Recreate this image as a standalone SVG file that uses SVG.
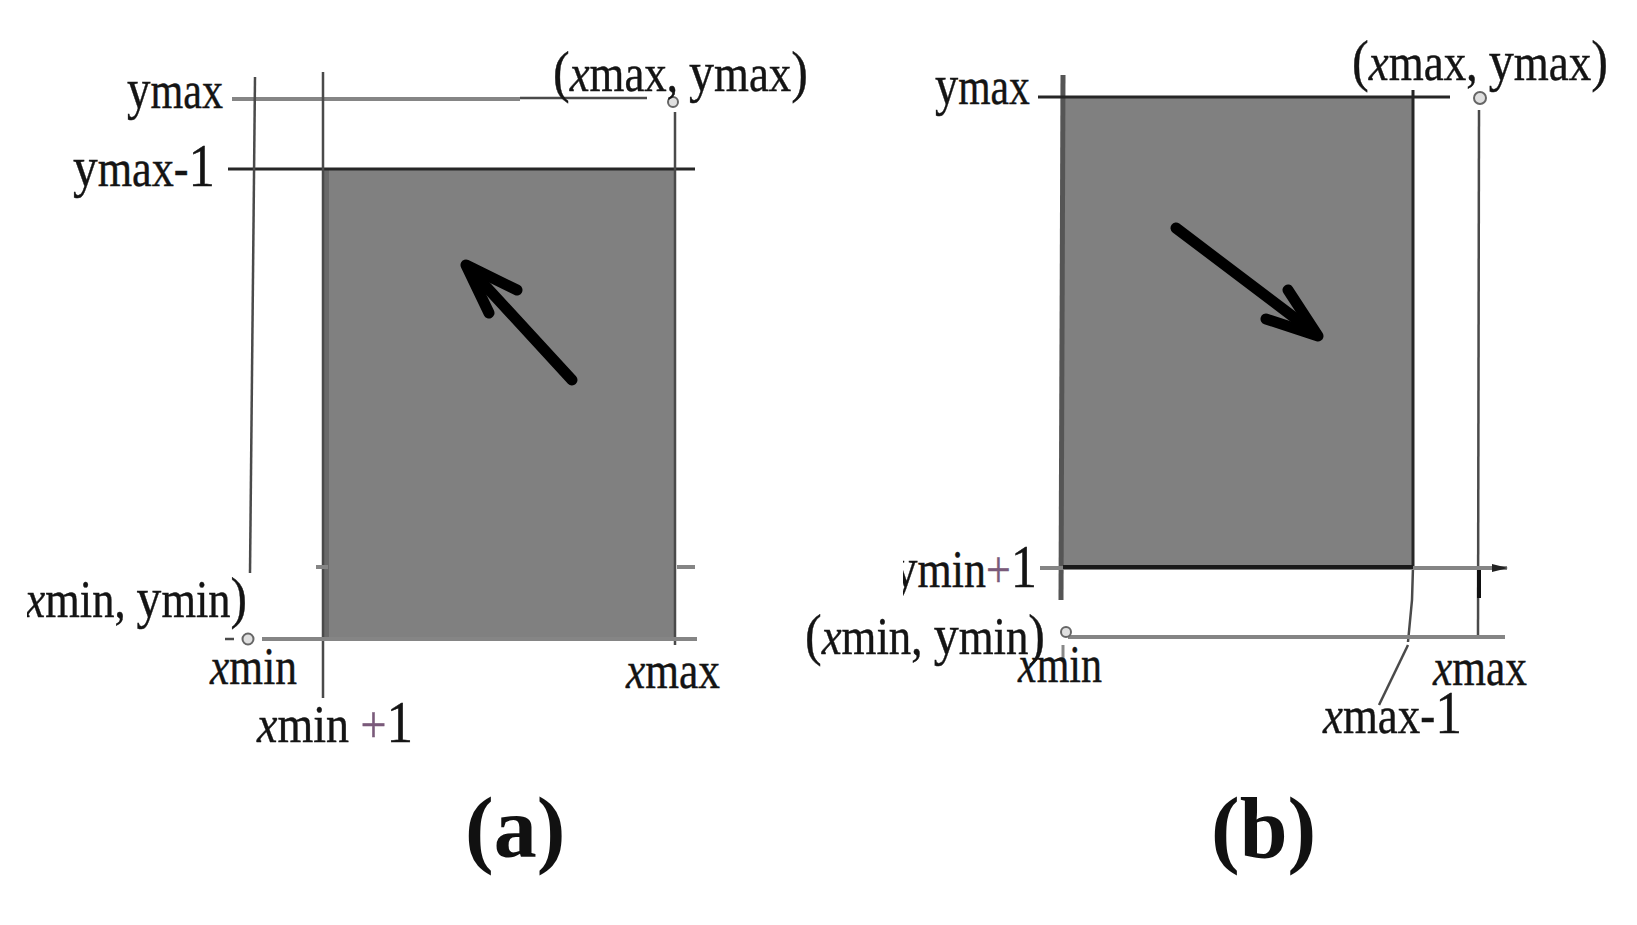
<svg xmlns="http://www.w3.org/2000/svg" width="1637" height="925" viewBox="0 0 1637 925">
<style>
.box{fill:#808080}
.ln{stroke:#4a4a4a;stroke-width:2.5;fill:none}
.lg{stroke:#858585;stroke-width:4;fill:none}
.dk{stroke:#262626;stroke-width:3;fill:none}
.t{font-family:"Liberation Serif","Times New Roman",serif;fill:#141414;font-size:52px;stroke:#141414;stroke-width:0.4}
.i{font-style:italic}
.big{font-size:58px}
.pl{fill:#7a5a7a;stroke:#7a5a7a}
.cap{font-family:"Liberation Serif","Times New Roman",serif;font-weight:bold;font-size:86px;fill:#111}
.arr{stroke:#000;stroke-width:11;stroke-linecap:round;stroke-linejoin:round;fill:none}
.pt{fill:#e0e0e0;stroke:#666;stroke-width:2}
</style>
<defs>
<marker id="ah" markerWidth="16" markerHeight="10" refX="15" refY="5" orient="auto" markerUnits="userSpaceOnUse">
<path d="M0,1 L16,5 L0,9 z" fill="#222"/>
</marker>
<clipPath id="clipA"><rect x="27" y="0" width="1610" height="925"/></clipPath>
<clipPath id="clipB"><rect x="903" y="0" width="734" height="925"/></clipPath>
</defs>
<rect width="1637" height="925" fill="#fff"/>

<g id="panel-a">
<g id="a-region">
<rect class="box" x="323" y="169" width="353" height="470"/>
<line x1="326" y1="169" x2="326" y2="639" stroke="#6a6a6a" stroke-width="6"/>
</g>
<g id="a-connectors">
<line class="lg" x1="232" y1="99" x2="520" y2="99"/>
<line class="ln" x1="520" y1="98" x2="647" y2="98"/>
<line class="dk" x1="228" y1="169" x2="695" y2="169"/>
<line class="ln" x1="255" y1="77" x2="250" y2="573"/>
<line class="ln" x1="323" y1="72" x2="323" y2="698"/>
<line class="ln" x1="675" y1="112" x2="675" y2="645"/>
<line class="lg" x1="262" y1="639" x2="697" y2="639"/>
<line class="ln" x1="225" y1="639" x2="234" y2="639"/>
<line class="lg" x1="316" y1="567" x2="328" y2="567"/>
<line class="lg" x1="677" y1="567" x2="695" y2="567"/>
<line class="arr" x1="572" y1="380" x2="468" y2="267"/>
<polyline class="arr" points="517,290 466,265 489,313"/>
</g>
<g id="a-points">
<circle class="pt" cx="673" cy="102" r="5"/>
<circle class="pt" cx="248" cy="639" r="5.5"/>
</g>
<g id="a-labels">
<text class="t" transform="translate(127,108) scale(0.81,1)"><tspan class="big">y</tspan>max</text>
<text class="t" transform="translate(73,186) scale(0.851,1)"><tspan class="big">y</tspan>max-<tspan font-size="62">1</tspan></text>
<text class="t" transform="translate(553,91) scale(0.862,1)"><tspan class="big">(</tspan><tspan class="i">x</tspan>max, <tspan class="big">y</tspan>max<tspan class="big">)</tspan></text>
<g clip-path="url(#clipA)">
<text class="t" transform="translate(9,617) scale(0.855,1)"><tspan class="big">(</tspan><tspan class="i">x</tspan>min, <tspan class="big">y</tspan>min<tspan class="big">)</tspan></text>
</g>
<text class="t" transform="translate(210,684) scale(0.837,1)"><tspan class="i">x</tspan>min</text>
<text class="t" transform="translate(257,742) scale(0.885,1)"><tspan class="i">x</tspan>min <tspan class="pl">+</tspan><tspan font-size="60">1</tspan></text>
<text class="t" transform="translate(626,688) scale(0.835,1)"><tspan class="i">x</tspan>max</text>
<text class="cap" x="465" y="857">(a)</text>
</g>
</g>

<g id="panel-b">
<g id="b-region">
<rect class="box" x="1063" y="97" width="350" height="470"/>
<line x1="1063" y1="75" x2="1061" y2="600" stroke="#555" stroke-width="5"/>
</g>
<g id="b-connectors">
<line class="dk" x1="1038" y1="97" x2="1450" y2="97"/>
<line class="dk" x1="1413" y1="90" x2="1413" y2="567"/>
<polyline class="ln" points="1413,567 1412,600 1408,642"/>
<line class="ln" x1="1408" y1="645" x2="1379" y2="705"/>
<line class="ln" x1="1479" y1="110" x2="1478" y2="638"/>
<line x1="1479" y1="567" x2="1479" y2="598" stroke="#111" stroke-width="4"/>
<line class="lg" x1="1040" y1="568" x2="1507" y2="568" marker-end="url(#ah)"/>
<line x1="1063" y1="567" x2="1413" y2="567" stroke="#1a1a1a" stroke-width="4"/>
<line class="lg" x1="1068" y1="637" x2="1505" y2="637"/>
<line x1="1063" y1="645" x2="1063" y2="662" stroke="#888" stroke-width="3"/>
<line class="arr" x1="1176" y1="228" x2="1316" y2="334"/>
<polyline class="arr" points="1288,290 1318,336 1266,319"/>
</g>
<g id="b-points">
<circle class="pt" cx="1480" cy="98" r="6"/>
<circle class="pt" cx="1066" cy="632" r="5"/>
</g>
<g id="b-labels">
<text class="t" transform="translate(935,104) scale(0.80,1)"><tspan class="big">y</tspan>max</text>
<text class="t" transform="translate(1352,80) scale(0.866,1)"><tspan class="big">(</tspan><tspan class="i">x</tspan>max, <tspan class="big">y</tspan>max<tspan class="big">)</tspan></text>
<g clip-path="url(#clipB)">
<text class="t" transform="translate(893,587) scale(0.846,1)"><tspan class="big">y</tspan>min<tspan class="pl">+</tspan><tspan font-size="62">1</tspan></text>
</g>
<text class="t" transform="translate(805,654) scale(0.862,1)"><tspan class="big">(</tspan><tspan class="i">x</tspan>min, <tspan class="big">y</tspan>min<tspan class="big">)</tspan></text>
<text class="t" transform="translate(1018,682) scale(0.808,1)"><tspan class="i">x</tspan>min</text>
<text class="t" transform="translate(1433,685) scale(0.835,1)"><tspan class="i">x</tspan>max</text>
<text class="t" transform="translate(1323,733) scale(0.864,1)"><tspan class="i">x</tspan>max-<tspan font-size="62">1</tspan></text>
<text class="cap" x="1211" y="857">(b)</text>
</g>
</g>
</svg>
